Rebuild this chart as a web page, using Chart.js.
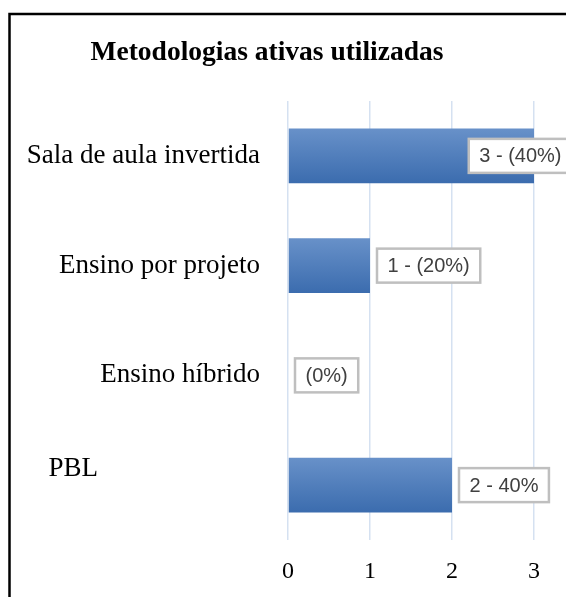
<!DOCTYPE html>
<html>
<head>
<meta charset="utf-8">
<script src="https://cdn.jsdelivr.net/npm/chart.js@4/dist/chart.umd.min.js"></script>
<style>
  body { margin: 0; background: #fff; }
  canvas { display: block; }
</style>
</head>
<body>
<canvas id="chart" width="566" height="597"></canvas>
<script>
const categories = ['Sala de aula invertida', 'Ensino por projeto', 'Ensino híbrido', 'PBL'];
const values = [3, 1, 0, 2];
const valueLabels = ['3 - (40%)', '1 - (20%)', '(0%)', '2 - 40%'];
const xTicks = [0, 1, 2, 3];

// gradient per bar, like the office style fill
function barFill(context) {
    var chart = context.chart;
    if (!chart.chartArea) return '#4f81bd';
    var y = chart.scales.y.getPixelForValue(context.dataIndex);
    var g = chart.ctx.createLinearGradient(0, y - 27.5, 0, y + 27.5);
    g.addColorStop(0, '#6891c9');
    g.addColorStop(1, '#3b6cae');
    return g;
}

const boxLabels = {
    id: 'boxLabels',
    afterDatasetsDraw(chart) {
        var ctx = chart.ctx;
        var meta = chart.getDatasetMeta(0);
        ctx.save();
        ctx.font = '20px "Liberation Sans"';
        ctx.textBaseline = 'middle';
        meta.data.forEach(function (bar, i) {
            var text = valueLabels[i];
            var w = ctx.measureText(text).width + 21;
            var h = 34;
            var x = bar.x + 7;
            if (x + w > chart.width + 6) x = chart.width + 6 - w;
            var y = bar.y - h / 2;
            ctx.fillStyle = '#fff';
            ctx.fillRect(x, y, w, h);
            ctx.strokeStyle = '#bfbfbf';
            ctx.lineWidth = 2.5;
            ctx.strokeRect(x, y, w, h);
            ctx.fillStyle = '#404040';
            ctx.fillText(text, x + 10.5, bar.y + 1);
        });
        ctx.restore();
    }
};

const frame = {
    id: 'frame',
    afterDraw(chart) {
        var ctx = chart.ctx;
        ctx.save();
        ctx.strokeStyle = '#000';
        ctx.lineWidth = 2.5;
        ctx.beginPath();
        ctx.moveTo(9.5, chart.height);
        ctx.lineTo(9.5, 14);
        ctx.lineTo(chart.width, 14);
        ctx.stroke();
        ctx.restore();
    }
};

new Chart(document.getElementById('chart'), {
    type: 'bar',
    data: {
        labels: categories,
        datasets: [{
            data: values,
            backgroundColor: barFill,
            borderWidth: 0,
            categoryPercentage: 1,
            barPercentage: 0.5
        }]
    },
    options: {
        indexAxis: 'y',
        responsive: false,
        animation: false,
        layout: { padding: { left: 0, right: 32, top: 0, bottom: 0 } },
        plugins: {
            legend: { display: false },
            tooltip: { enabled: false },
            title: {
                display: true,
                text: 'Metodologias ativas utilizadas',
                color: '#000',
                font: { family: '"Liberation Serif"', size: 27.5, weight: 'bold', lineHeight: 1.2 },
                padding: { top: 36, bottom: 32 }
            }
        },
        scales: {
            x: {
                min: 0,
                max: 3,
                afterBuildTicks: function (s) { s.ticks = xTicks.map(function (v) { return { value: v }; }); },
                afterFit: function (s) { s.height = 57; },
                border: { display: false },
                grid: { color: '#d5e1f1', lineWidth: 1.5, drawTicks: false },
                ticks: {
                    color: '#000',
                    padding: 17,
                    font: { family: '"Liberation Serif"', size: 24 }
                }
            },
            y: {
                border: { display: false },
                grid: { display: false, drawTicks: false },
                afterFit: function (s) { s.width = 288; },
                ticks: {
                    color: '#000',
                    padding: 28,
                    autoSkip: false,
                    font: { family: '"Liberation Serif"', size: 27, lineHeight: 1.2 },
                    callback: function (v, i) {
                        var lab = categories[i];
                        if (lab === 'PBL') return [lab + '\u00A0'.repeat(24), ''];
                        return lab;
                    }
                }
            }
        }
    },
    plugins: [boxLabels, frame]
});
</script>
</body>
</html>
